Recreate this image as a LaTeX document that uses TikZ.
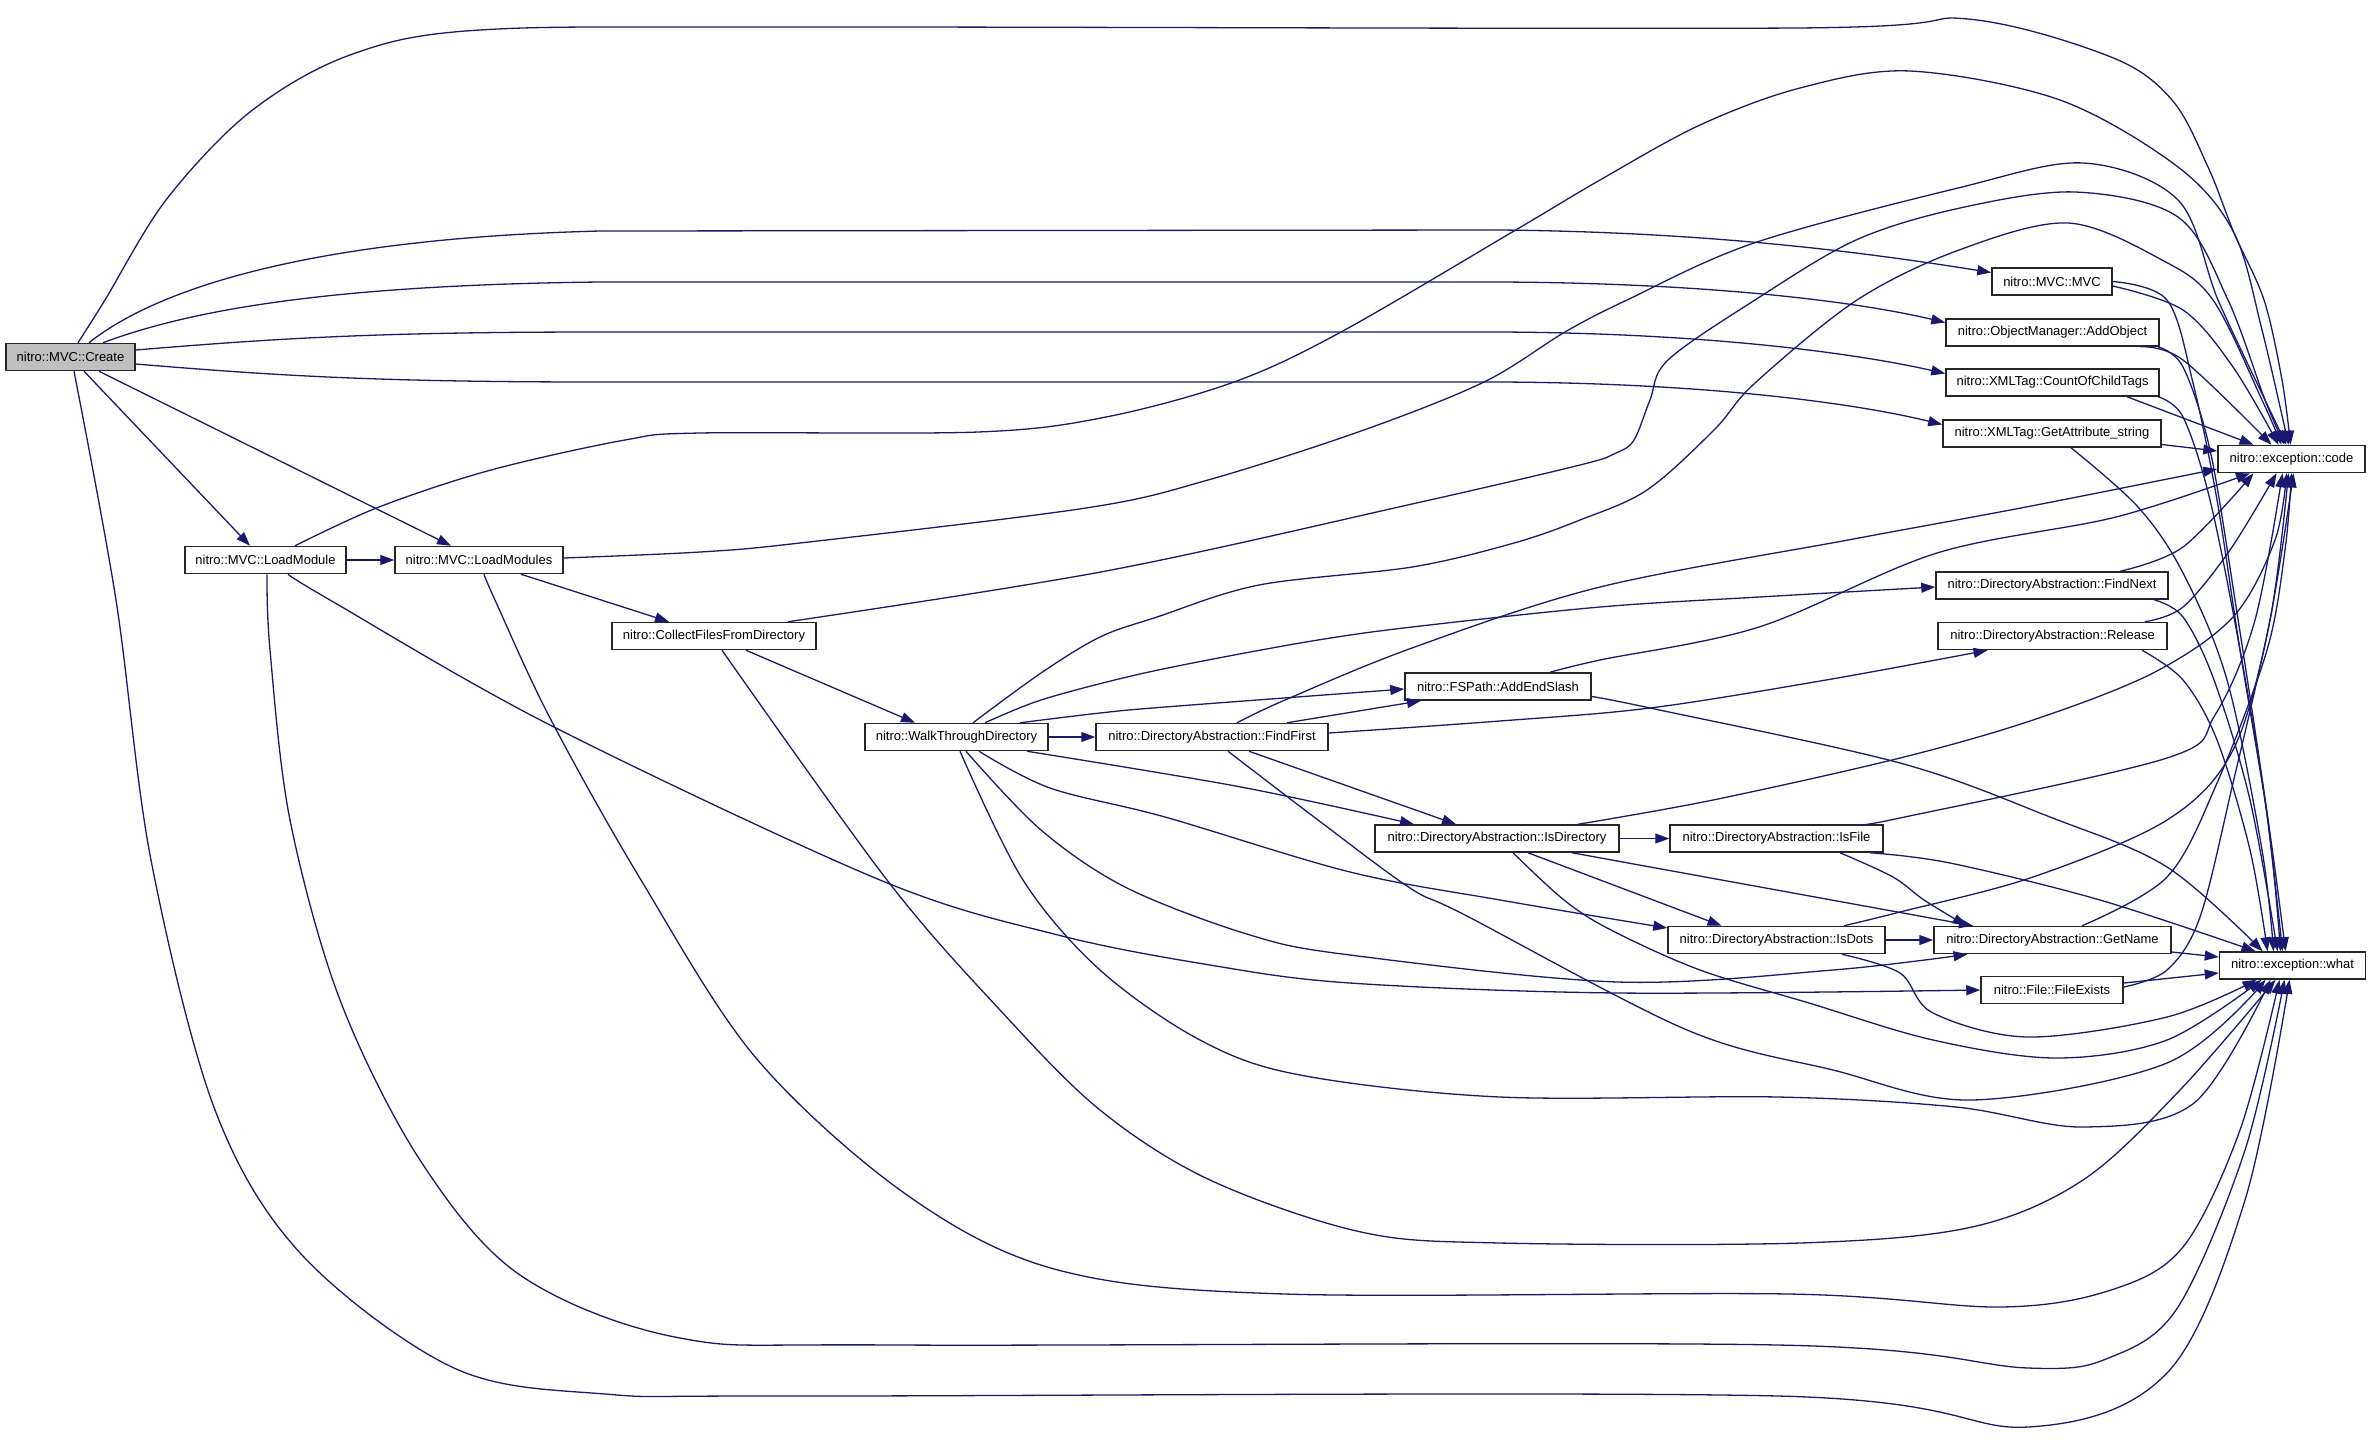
\documentclass[tikz,border=0pt]{standalone}
\usepackage{fontspec}
\setmainfont{Liberation Sans}
\usetikzlibrary{arrows.meta}
\definecolor{edgeblue}{RGB}{25,25,112}
\definecolor{rootgray}{RGB}{191,191,191}
\begin{document}
\begin{tikzpicture}[x=1pt,y=-1pt,
  fn/.style={draw=black!85, line width=1.5pt, fill=white, minimum height=27pt, inner sep=0pt, font=\fontsize{13}{15}\selectfont},
  e/.style={draw=edgeblue, line width=1.3pt, -{Triangle[length=14pt,width=10pt]}},
  sm/.style={smooth, tension=0.55}]
\useasboundingbox (0,0) rectangle (2371,1444);
% nodes
\node[fn, fill=rootgray, minimum width=129pt] (Create) at (70.5,357) {nitro::MVC::Create};
\node[fn, minimum width=161pt] (LoadModule) at (265.5,560) {nitro::MVC::LoadModule};
\node[fn, minimum width=168pt] (LoadModules) at (479,560) {nitro::MVC::LoadModules};
\node[fn, minimum width=204pt] (CollectFiles) at (714,636) {nitro::CollectFilesFromDirectory};
\node[fn, minimum width=183pt] (Walk) at (956.5,737) {nitro::WalkThroughDirectory};
\node[fn, minimum width=232pt] (FindFirst) at (1212,737) {nitro::DirectoryAbstraction::FindFirst};
\node[fn, minimum width=186pt] (AddEndSlash) at (1498,686.5) {nitro::FSPath::AddEndSlash};
\node[fn, minimum width=244pt] (IsDirectory) at (1497,838.5) {nitro::DirectoryAbstraction::IsDirectory};
\node[fn, minimum width=213pt] (IsFile) at (1776.5,838.5) {nitro::DirectoryAbstraction::IsFile};
\node[fn, minimum width=217pt] (IsDots) at (1776.5,940) {nitro::DirectoryAbstraction::IsDots};
\node[fn, minimum width=237pt] (GetName) at (2052.5,940) {nitro::DirectoryAbstraction::GetName};
\node[fn, minimum width=142pt] (FileExists) at (2052,990) {nitro::File::FileExists};
\node[fn, minimum width=232pt] (FindNext) at (2052,585.5) {nitro::DirectoryAbstraction::FindNext};
\node[fn, minimum width=229pt] (Release) at (2052.5,636) {nitro::DirectoryAbstraction::Release};
\node[fn, minimum width=146pt] (what) at (2292.5,965.5) {nitro::exception::what};
\node[fn, minimum width=147pt] (code) at (2291.5,459) {nitro::exception::code};
\node[fn, minimum width=120pt] (MVC) at (2052,281.5) {nitro::MVC::MVC};
\node[fn, minimum width=213pt] (AddObject) at (2052.5,332.5) {nitro::ObjectManager::AddObject};
\node[fn, minimum width=213pt] (CountOfChildTags) at (2052.5,382.5) {nitro::XMLTag::CountOfChildTags};
\node[fn, minimum width=218pt] (GetAttribute) at (2052,433.5) {nitro::XMLTag::GetAttribute\_string};
% edges from Create
\draw[e] plot[sm] coordinates {([xshift=7.5pt]Create.north) (105,300) (166,200) (250,112) (350,55) (480,30) (800,27) (1795,28) (1968,19) (2111,57) (2172,100) (2208,167) (2234,233) (2264,300) (2282,380) ([xshift=-1pt]code.north)};
\draw[e] ([xshift=18.5pt]Create.north) .. controls (130,310) and (250,240) .. (600,231) -- (1500,230) .. controls (1700,232) and (1850,250) .. ([yshift=9pt]MVC.west);
\draw[e] ([xshift=32.5pt]Create.north) .. controls (190,310) and (330,285) .. (600,282) -- (1500,282) .. controls (1700,283) and (1850,300) .. ([yshift=10pt]AddObject.west);
\draw[e] ([yshift=7pt]Create.east) .. controls (280,338) and (380,332) .. (600,332) -- (1500,332) .. controls (1700,333) and (1850,352) .. ([yshift=9pt]CountOfChildTags.west);
\draw[e] ([yshift=-7pt]Create.east) .. controls (280,376) and (380,382) .. (600,382) -- (1500,382) .. controls (1700,383) and (1850,402) .. ([yshift=9pt]GetAttribute.west);
\draw[e] ([xshift=13.5pt]Create.south) -- ([xshift=-15.5pt]LoadModule.north);
\draw[e] ([xshift=28.5pt]Create.south) -- ([xshift=-28pt]LoadModules.north);
\draw[e] plot[sm] coordinates {([xshift=3.5pt]Create.south) (116,600) (151,860) (215,1110) (302,1255) (454,1368) (605,1394) (800,1396) (1778,1396) (2028,1427) (2167,1373) (2245,1200) ([xshift=-3pt]what.south)};
% LoadModule
\draw[e] (LoadModule.east) -- (LoadModules.west);
\draw[e] plot[sm] coordinates {([xshift=29.5pt]LoadModule.north) (379,507) (491,470) (625,440) (700,433) (978,432) (1106,417) (1234,382) (1341,332) (1514,231) (1600,180) (1700,125) (1800,88) (1910,71) (2060,100) (2178,167) (2234,233) (2262,330) ([xshift=-3pt]code.north)};
\draw[e] plot[sm] coordinates {([xshift=22.5pt]LoadModule.south) (330,600) (550,725) (880,880) (1058,935) (1210,965) (1350,983) (1618,993) (FileExists.west)};
\draw[e] plot[sm] coordinates {([xshift=1.5pt]LoadModule.south) (270,650) (290,820) (340,1000) (420,1160) (520,1275) (680,1338) (900,1345) (1778,1345) (2028,1368) (2111,1357) (2178,1307) (2245,1150) ([xshift=-8pt]what.south)};
% LoadModules
\draw[e] plot[sm] coordinates {([yshift=2pt]LoadModules.east) (700,552) (800,543) (1086,508) (1208,480) (1361,431) (1484,382) (1565,332) (1627,300) (1754,243) (1958,188) (2083,163) (2178,200) (2218,300) (2265,400) ([xshift=-5pt]code.north)};
\draw[e] ([xshift=42pt]LoadModules.south) -- ([xshift=-45pt]CollectFiles.north);
\draw[e] plot[sm] coordinates {([xshift=5pt]LoadModules.south) (495,600) (550,718) (641,880) (756,1058) (907,1195) (1058,1270) (1285,1294) (1789,1294) (2000,1307) (2111,1290) (2183,1247) (2240,1130) ([xshift=-13pt]what.south)};
% CollectFiles
\draw[e] ([xshift=32pt]CollectFiles.south) -- ([xshift=-41.5pt]Walk.north);
\draw[e] plot[sm] coordinates {([xshift=74pt]CollectFiles.north) (1106,571) (1412,504) (1580,465) (1616,453) (1634,440) (1650,400) (1668,360) (1755,300) (1856,240) (1960,208) (2075,192) (2178,217) (2228,300) (2265,400) ([xshift=-7pt]code.north)};
\draw[e] plot[sm] coordinates {([xshift=8pt]CollectFiles.south) (887,880) (1000,1010) (1100,1110) (1210,1180) (1361,1232) (1500,1243) (1800,1243) (1972,1227) (2083,1180) (2180,1090) ([xshift=-17pt]what.south)};
% Walk
\draw[e] (Walk.east) -- (FindFirst.west);
\draw[e] plot[sm] coordinates {([xshift=16.5pt]Walk.north) (1041,673) (1100,637) (1157,617) (1259,585) (1412,567) (1514,543) (1580,520) (1647,490) (1714,430) (1755,383) (1857,300) (1959,250) (2068,223) (2162,260) (2213,300) (2262,400) ([xshift=-10pt]code.north)};
\draw[e] plot[sm] coordinates {([xshift=28.5pt]Walk.north) (1041,700) (1127,677) (1208,660) (1318,640) (1412,627) (1600,607) (1759,597) ([yshift=-1.5pt]FindNext.west)};
\draw[e] plot[sm] coordinates {([xshift=63.5pt]Walk.north) (1100,713) (1165,707) ([yshift=-2.5pt]AddEndSlash.west)};
\draw[e] plot[sm] coordinates {([xshift=70.5pt]Walk.south) (1241,787) ([xshift=-83pt]IsDirectory.north)};
\draw[e] plot[sm] coordinates {([xshift=22.5pt]Walk.south) (1050,788) (1165,817) (1350,872) (1500,900) ([yshift=12pt]IsDots.west)};
\draw[e] plot[sm] coordinates {([xshift=9.5pt]Walk.south) (1041,830) (1127,888) (1250,935) (1350,955) (1618,982) (1833,970) ([xshift=-85pt]GetName.south)};
\draw[e] plot[sm] coordinates {([xshift=3.5pt]Walk.south) (1023,880) (1100,970) (1200,1040) (1300,1075) (1500,1097) (1778,1097) (1956,1107) (2083,1127) (2194,1103) ([xshift=-22pt]what.south)};
% FindFirst
\draw[e] ([xshift=75pt]FindFirst.north) -- ([xshift=-77pt]AddEndSlash.south);
\draw[e] plot[sm] coordinates {([yshift=4pt]FindFirst.east) (1500,721) (1650,708) (1826,680) ([xshift=-65pt]Release.south)};
\draw[e] ([xshift=37pt]FindFirst.south) -- ([xshift=-41pt]IsDirectory.north);
\draw[e] plot[sm] coordinates {([xshift=25pt]FindFirst.north) (1285,700) (1412,648) (1600,587) (1848,540) (2026,507) ([yshift=-10pt]code.west)};
\draw[e] plot[sm] coordinates {([xshift=16pt]FindFirst.south) (1318,820) (1410,888) (1465,915) (1687,1030) (1833,1070) (1972,1100) (2167,1063) ([xshift=-27pt]what.south)};
% AddEndSlash
\draw[e] plot[sm] coordinates {([xshift=52pt]AddEndSlash.north) (1600,660) (1759,627) (1937,553) (2116,517) ([xshift=-41.5pt]code.south)};
\draw[e] plot[sm] coordinates {([yshift=-10pt]AddEndSlash.east) (1650,708) (1900,763) (2050,817) (2167,867) ([xshift=-30pt]what.north)};
% IsDirectory
\draw[e] (IsDirectory.east) -- (IsFile.west);
\draw[e] ([xshift=31pt]IsDirectory.south) -- ([xshift=-55pt]IsDots.north);
\draw[e] ([xshift=75pt]IsDirectory.south) -- ([xshift=-79.5pt]GetName.north);
\draw[e] plot[sm] coordinates {([xshift=81pt]IsDirectory.north) (1713,800) (1900,758) (2033,720) (2153,673) (2233,617) (2275,540) ([xshift=-5pt]code.south)};
\draw[e] plot[sm] coordinates {([xshift=16pt]IsDirectory.south) (1564,900) (1611,930) (1700,970) (1809,1003) (1933,1040) (2056,1058) (2167,1040) ([xshift=-31pt]what.south)};
% IsFile
\draw[e] plot[sm] coordinates {([xshift=82.5pt]IsFile.north) (1900,818) (2167,758) (2215,715) (2255,620) ([xshift=-9pt]code.south)};
\draw[e] plot[sm] coordinates {([xshift=63.5pt]IsFile.south) (1893,877) (1924,900) ([xshift=-86pt]GetName.north)};
\draw[e] plot[sm] coordinates {([xshift=93.5pt]IsFile.south) (1950,863) (2100,900) ([xshift=-37pt]what.north)};
% IsDots
\draw[e] (IsDots.east) -- (GetName.west);
\draw[e] plot[sm] coordinates {([xshift=67.5pt]IsDots.north) (1900,912) (2033,877) (2167,820) (2233,750) (2270,620) ([xshift=-3pt]code.south)};
\draw[e] plot[sm] coordinates {([xshift=65.5pt]IsDots.south) (1900,973) (1933,1013) (2028,1037) (2167,1017) ([xshift=-36pt]what.south)};
% GetName
\draw[e] ([yshift=-12pt]GetName.east) -- ([yshift=8.5pt]what.west);
\draw[e] plot[sm] coordinates {([xshift=29.5pt]GetName.north) (2167,877) (2217,783) (2267,650) (2285,550) ([xshift=0pt]code.south)};
% FileExists
\draw[e] ([yshift=7pt]FileExists.east) -- ([yshift=-7.5pt]what.west);
\draw[e] plot[sm] coordinates {([yshift=3pt]FileExists.east) (2167,970) (2200,917) (2233,783) (2270,620) ([xshift=2pt]code.south)};
% FindNext, Release
\draw[e] plot[sm] coordinates {([xshift=68pt]FindNext.north) (2183,547) ([xshift=-38pt]code.south)};
\draw[e] plot[sm] coordinates {([xshift=102pt]FindNext.south) (2183,617) (2214,680) (2250,800) ([xshift=-15pt]what.north)};
\draw[e] plot[sm] coordinates {([xshift=92.5pt]Release.north) (2183,607) (2230,550) ([xshift=-15pt]code.south)};
\draw[e] plot[sm] coordinates {([xshift=89.5pt]Release.south) (2183,680) (2217,740) (2250,850) ([xshift=-25pt]what.north)};
% MVC, AddObject, CountOfChildTags, GetAttribute
\draw[e] plot[sm] coordinates {([yshift=-4.5pt]MVC.east) (2183,310) (2233,367) ([xshift=-13pt]code.north)};
\draw[e] plot[sm] coordinates {(MVC.east) (2167,300) (2193,383) (2217,500) (2240,650) (2268,820) ([xshift=-7pt]what.north)};
\draw[e] plot[sm] coordinates {([xshift=87.5pt]AddObject.south) (2183,360) ([xshift=-20pt]code.north)};
\draw[e] plot[sm] coordinates {([xshift=105.5pt]AddObject.south) (2183,367) (2210,450) (2235,600) (2265,800) ([xshift=-10pt]what.north)};
\draw[e] ([xshift=74.5pt]CountOfChildTags.south) -- ([xshift=-38pt]code.north);
\draw[e] plot[sm] coordinates {([xshift=105.5pt]CountOfChildTags.south) (2183,417) (2210,500) (2240,650) (2268,820) ([xshift=-12pt]what.north)};
\draw[e] ([yshift=-11pt]GetAttribute.east) -- ([yshift=8pt]code.west);
\draw[e] plot[sm] coordinates {([xshift=19pt]GetAttribute.south) (2138,507) (2183,573) (2227,680) (2262,850) ([xshift=-19pt]what.north)};
\end{tikzpicture}
\end{document}
